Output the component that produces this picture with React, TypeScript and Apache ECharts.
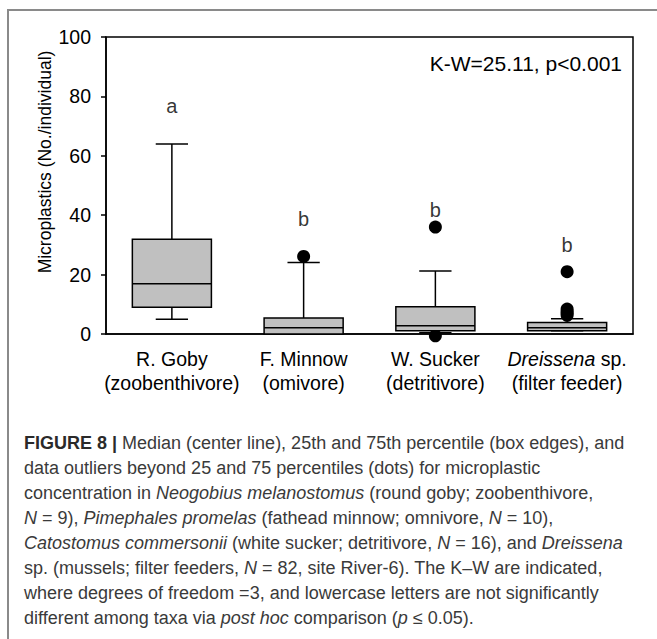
import React, { useEffect, useRef } from "react";
import * as echarts from "echarts";

const categories = ["R. Goby", "F. Minnow", "W. Sucker", "Dreissena sp."];
const groups = ["(zoobenthivore)", "(omivore)", "(detritivore)", "(filter feeder)"];
const whiskerLow = [5, 0, 0.4, 1.1];
const q1 = [9, 0, 1.1, 1.1];
const median = [16.9, 2.1, 2.8, 2.1];
const q3 = [31.9, 5.4, 9.2, 3.9];
const whiskerHigh = [64, 24.1, 21.2, 5.1];
const outliers: [number, number][] = [
  [1, 26.1],
  [2, 36],
  [2, -0.6],
  [3, 21],
  [3, 8.4],
  [3, 7.6],
  [3, 7.0],
  [3, 6.3],
];
const letters = ["a", "b", "b", "b"];
const letterY = [76.6, 38.8, 41.7, 29.9];
const yTicks = { min: 0, max: 100, interval: 20 };
const statText = "K-W=25.11, p<0.001";
const yName = "Microplastics (No./individual)";

const captionLines: [string, string][][] = [
  [["b", "FIGURE 8 | "], ["n", "Median (center line), 25th and 75th percentile (box edges), and"]],
  [["n", "data outliers beyond 25 and 75 percentiles (dots) for microplastic"]],
  [["n", "concentration in "], ["i", "Neogobius melanostomus"], ["n", " (round goby; zoobenthivore,"]],
  [["i", "N"], ["n", " = 9), "], ["i", "Pimephales promelas"], ["n", " (fathead minnow; omnivore, "], ["i", "N"], ["n", " = 10),"]],
  [["i", "Catostomus commersonii"], ["n", " (white sucker; detritivore, "], ["i", "N"], ["n", " = 16), and "], ["i", "Dreissena"]],
  [["n", "sp. (mussels; filter feeders, "], ["i", "N"], ["n", " = 82, site River-6). The K–W are indicated,"]],
  [["n", "where degrees of freedom =3, and lowercase letters are not significantly"]],
  [["n", "different among taxa via "], ["i", "post hoc"], ["n", " comparison ("], ["i", "p"], ["n", " ≤ 0.05)."]],
];

const FONT = "'Liberation Sans', Arial, Helvetica, sans-serif";

export default function App() {
  const ref = useRef<HTMLDivElement>(null);
  useEffect(() => {
    if (!ref.current) return;
    const chart = echarts.init(ref.current, undefined, { renderer: "svg" });
    const capSize = 18;
    const capRich = {
      n: { fontSize: capSize, fontFamily: FONT, fill: "#3a3a3a" },
      b: { fontSize: capSize, fontFamily: FONT, fill: "#2a2a2a", fontWeight: "bold" },
      i: { fontSize: capSize, fontFamily: FONT, fill: "#3a3a3a", fontStyle: "italic" },
    };
    const captionGraphics = captionLines.map((line, k) => ({
      type: "text",
      x: 24,
      y: 443 + k * 25,
      style: {
        text: line.map(([s, t]) => `{${s}|${t}}`).join(""),
        rich: capRich,
        verticalAlign: "middle",
        align: "left",
        fontSize: capSize,
        fontFamily: FONT,
      },
    }));

    const option: any = {
      animation: false,
      textStyle: { fontFamily: FONT },
      grid: {
        left: 106,
        top: 37,
        width: 527,
        height: 297,
        show: true,
        borderColor: "#000",
        borderWidth: 1.5,
      },
      xAxis: {
        type: "category",
        data: categories,
        boundaryGap: true,
        axisLine: { lineStyle: { color: "#000", width: 1.5 } },
        axisTick: { alignWithLabel: true, length: 6, lineStyle: { color: "#000", width: 1.5 } },
        axisLabel: {
          margin: 13,
          color: "#000",
          interval: 0,
          formatter: (v: string, i: number) => {
            if (v.startsWith("Dreissena")) {
              return `{i|Dreissena}{n| sp.}\n{n|${groups[i]}}`;
            }
            return `{n|${v}}\n{n|${groups[i]}}`;
          },
          rich: {
            n: { fontSize: 19.5, fontFamily: FONT, color: "#000", lineHeight: 24 },
            i: { fontSize: 19.5, fontFamily: FONT, color: "#000", fontStyle: "italic", lineHeight: 24 },
          },
        },
      },
      yAxis: {
        type: "value",
        min: yTicks.min,
        max: yTicks.max,
        interval: yTicks.interval,
        splitLine: { show: false },
        axisLine: { show: true, lineStyle: { color: "#000", width: 1.5 } },
        axisTick: { show: true, length: 5, lineStyle: { color: "#000", width: 1.5 } },
        axisLabel: { fontSize: 19.5, color: "#000", margin: 15, fontFamily: FONT },
      },
      series: [
        {
          type: "scatter",
          data: outliers,
          symbol: "circle",
          symbolSize: 13,
          itemStyle: { color: "#000", opacity: 1 },
          clip: false,
          z: 1,
        },
        {
          type: "custom",
          z: 2,
          data: categories.map((_, i) => [i, whiskerLow[i], q1[i], median[i], q3[i], whiskerHigh[i]]),
          encode: { x: 0, y: [1, 2, 3, 4, 5] },
          renderItem: (params: any, api: any) => {
            const i = api.value(0);
            const pLow = api.coord([i, api.value(1)]);
            const pQ1 = api.coord([i, api.value(2)]);
            const pMed = api.coord([i, api.value(3)]);
            const pQ3 = api.coord([i, api.value(4)]);
            const pHigh = api.coord([i, api.value(5)]);
            const band = api.size([1, 0])[0];
            const bw = band * 0.6;
            const cw = band * 0.245;
            const x = pLow[0];
            const ls = { stroke: "#000", lineWidth: 1.5 };
            return {
              type: "group",
              children: [
                { type: "line", shape: { x1: x, y1: pLow[1], x2: x, y2: pQ1[1] }, style: ls },
                { type: "line", shape: { x1: x, y1: pQ3[1], x2: x, y2: pHigh[1] }, style: ls },
                { type: "line", shape: { x1: x - cw / 2, y1: pLow[1], x2: x + cw / 2, y2: pLow[1] }, style: ls },
                { type: "line", shape: { x1: x - cw / 2, y1: pHigh[1], x2: x + cw / 2, y2: pHigh[1] }, style: ls },
                {
                  type: "rect",
                  shape: { x: x - bw / 2, y: pQ3[1], width: bw, height: pQ1[1] - pQ3[1] },
                  style: { fill: "#c0c0c0", stroke: "#000", lineWidth: 1.5 },
                },
                { type: "line", shape: { x1: x - bw / 2, y1: pMed[1], x2: x + bw / 2, y2: pMed[1] }, style: ls },
              ],
            };
          },
        },
        {
          type: "scatter",
          data: categories.map((_, i) => [i, letterY[i]]),
          symbolSize: 0,
          itemStyle: { color: "transparent" },
          z: 3,
          label: {
            show: true,
            position: "inside",
            formatter: (p: any) => letters[p.dataIndex],
            fontSize: 20,
            color: "#000",
            fontFamily: FONT,
          },
        },
      ],
      graphic: [
        {
          type: "rect",
          shape: { x: 8, y: 10, width: 700, height: 700 },
          style: { fill: "none", stroke: "#8a8a8a", lineWidth: 2 },
          silent: true,
        },
        {
          type: "text",
          x: 622,
          y: 63,
          style: {
            text: statText,
            fontSize: 21,
            fontFamily: FONT,
            fill: "#000",
            align: "right",
            verticalAlign: "middle",
          },
        },
        {
          type: "text",
          x: 45,
          y: 162,
          rotation: Math.PI / 2,
          style: {
            text: yName,
            fontSize: 17.5,
            fontFamily: FONT,
            fill: "#000",
            align: "center",
            verticalAlign: "middle",
          },
        },
        ...captionGraphics,
      ],
    };
    chart.setOption(option);
    return () => chart.dispose();
  }, []);
  return (
    <div
      ref={ref}
      style={{ position: "absolute", left: 0, top: 0, width: 657, height: 639, background: "#fff" }}
    />
  );
}
